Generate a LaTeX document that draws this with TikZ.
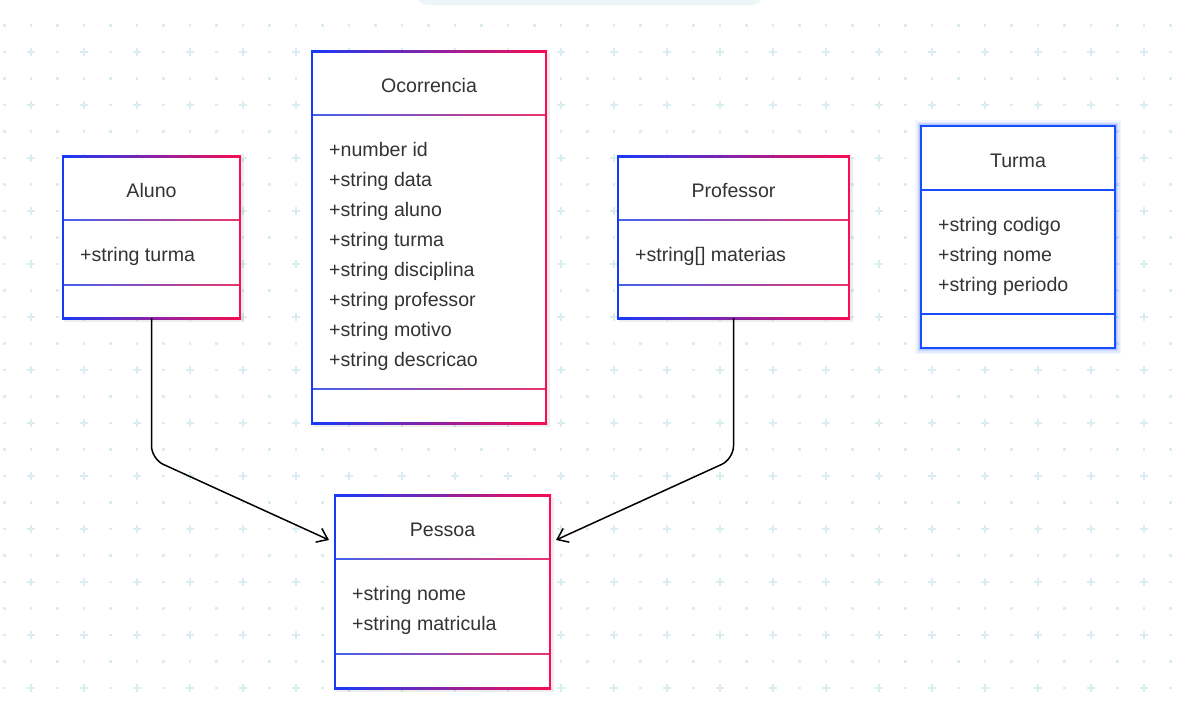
\documentclass[tikz,border=0pt]{standalone}
\usepackage{fontspec}
\setmainfont{Liberation Sans}
\usetikzlibrary{arrows.meta,calc}
\definecolor{gblue}{RGB}{22,58,250}
\definecolor{gred}{RGB}{250,12,82}
\definecolor{dblue}{RGB}{66,98,240}
\definecolor{dred}{RGB}{236,52,110}
\definecolor{gridc}{RGB}{218,237,241}
\definecolor{txt}{RGB}{51,51,51}
\definecolor{tblue}{RGB}{22,78,255}
\definecolor{topbar}{RGB}{238,245,248}
\tikzset{
  classbg/.style={draw=none, fill=white, inner sep=0pt, outer sep=0pt, rectangle},
  classtitle/.style={font=\fontsize{19.6}{22}\selectfont, text=txt, anchor=base, inner sep=0pt},
  classattr/.style={font=\fontsize{19.6}{22}\selectfont, text=txt, anchor=base west, inner sep=0pt},
  link/.style={draw=black, line width=1.5pt, rounded corners=13pt,
    -{Straight Barb[length=10pt,width=15pt,line width=1.5pt]}},
  griddot/.style={fill=gridc},
  gridcross/.style={draw=gridc, line width=2pt}
}
% name, x1, x2, top, bottom, divider1, divider2
\newcommand\gradclass[7]{%
  \fill[black, opacity=0.07] (#2+1,#4+2) rectangle (#3+4,#5+4);
  \node[classbg, minimum width={(#3-#2)*1pt}, minimum height={(#5-#4)*1pt}] (#1) at ({(#2+#3)/2},{(#4+#5)/2}) {};
  \shade[left color=dblue, right color=dred] (#2,#6-0.7) rectangle (#3,#6+0.7);
  \shade[left color=dblue, right color=dred] (#2,#7-0.7) rectangle (#3,#7+0.7);
  \shade[left color=gblue, right color=gred] (#2-1,#4-1) rectangle (#3+1,#4+1);
  \shade[left color=gblue, right color=gred] (#2-1,#5-1) rectangle (#3+1,#5+1);
  \fill[gblue] (#2-1,#4-1) rectangle (#2+1,#5+1);
  \fill[gred] (#3-1,#4-1) rectangle (#3+1,#5+1);
}
\begin{document}
\begin{tikzpicture}[x=1pt,y=-1pt]
\useasboundingbox (0,0) rectangle (1181,712);
\fill[white] (0,0) rectangle (1181,712);
% faint top bar
\fill[topbar, rounded corners=10pt] (417,-20) rectangle (762,5);
% background grid
\foreach \i in {0,...,44}{
  \foreach \j in {0,...,25}{
    \pgfmathsetmacro{\gx}{4.5+26.5*\i}
    \pgfmathsetmacro{\gy}{25.5+26.5*\j}
    \pgfmathtruncatemacro{\odd}{(mod(\i,2)==1)&&(mod(\j,2)==1)}
    \ifnum\odd=1
      \draw[gridcross] (\gx-4,\gy) -- (\gx+4,\gy) (\gx,\gy-4) -- (\gx,\gy+4);
    \else
      \fill[griddot] (\gx-1.3,\gy-1.3) rectangle (\gx+1.3,\gy+1.3);
    \fi
  }
}
% classes
\gradclass{aluno}{63}{240}{156}{318}{220}{285}
\gradclass{ocorrencia}{312}{546}{51}{423}{115}{389}
\gradclass{professor}{618}{849}{156}{318}{220}{285}
\gradclass{pessoa}{335}{550}{495}{688}{559}{654}
% Turma (selected, blue glow)
\foreach \w/\o in {12/0.05,9/0.07,6/0.1,4/0.14}{
  \draw[tblue, line width=\w pt, opacity=\o] (921,126) rectangle (1115,348);
}
\node[classbg, minimum width=194pt, minimum height=222pt] (turma) at (1018,237) {};
\draw[tblue, line width=1.5pt] (921,190) -- (1115,190) (921,314) -- (1115,314);
\draw[tblue, line width=2.6pt] (turma.north west) rectangle (turma.south east);
% titles
\node[classtitle] (aluno-t) at (151.5,197) {Aluno};
\node[classtitle] (ocorrencia-t) at (429,92) {Ocorrencia};
\node[classtitle] (professor-t) at (733.5,197) {Professor};
\node[classtitle] (turma-t) at (1018,167) {Turma};
\node[classtitle] (pessoa-t) at (442.5,536) {Pessoa};
% attributes
\node[classattr] (aluno-a0) at (80,261) {+string turma};
\foreach [count=\k from 0] \a in {+number id,+string data,+string aluno,+string turma,+string disciplina,+string professor,+string motivo,+string descricao}{
  \node[classattr] (ocorrencia-a\k) at (329,156+30*\k) {\a};
}
\node[classattr] (professor-a0) at (635,261) {+string{[]} materias};
\foreach [count=\k from 0] \a in {+string codigo,+string nome,+string periodo}{
  \node[classattr] (turma-a\k) at (938,231+30*\k) {\a};
}
\foreach [count=\k from 0] \a in {+string nome,+string matricula}{
  \node[classattr] (pessoa-a\k) at (352,600+30*\k) {\a};
}
% connectors
\coordinate (kA) at (151.5,459);
\coordinate (kP) at (733.5,459);
\coordinate (pA) at ($(pessoa.north west)+(-6,45)$);
\coordinate (pP) at ($(pessoa.north east)+(6,45)$);
\draw[link] (aluno.south) -- (kA) -- (pA);
\draw[link] (professor.south) -- (kP) -- (pP);
\end{tikzpicture}
\end{document}
